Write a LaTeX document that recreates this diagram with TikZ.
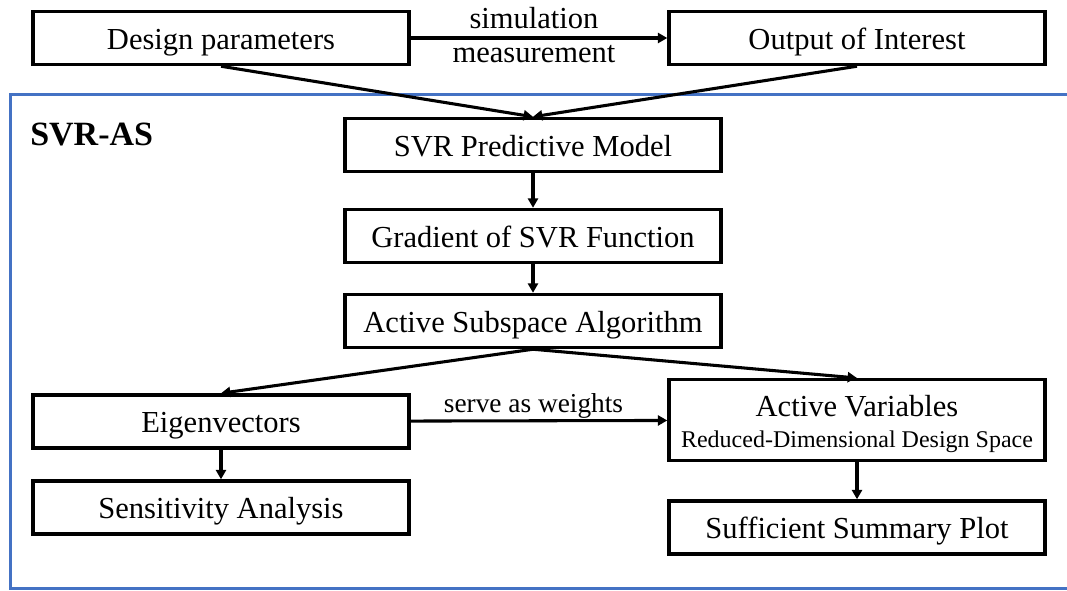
\documentclass[tikz,border=0pt]{standalone}
\usepackage{fontspec}
\setmainfont{Liberation Serif}
\usetikzlibrary{arrows.meta}
\definecolor{frameblue}{RGB}{68,114,196}
\begin{document}
\begin{tikzpicture}[x=0.75pt,y=-0.75pt,
  box/.style={draw, line width=2.6pt, rectangle, minimum width=282pt,
    minimum height=39.75pt, inner sep=0pt, text height=16.5pt, text depth=0pt,
    font=\fontsize{22.9}{27}\selectfont},
  flow/.style={line width=2.3pt, -{Triangle[length=7pt,width=7.5pt]}},
  lbl/.style={anchor=base, inner sep=0pt}
]
\clip (0,0) rectangle (1067,590);

% SVR-AS frame
\draw[frameblue, line width=2.25pt] (10,94) rectangle (1080,588);
\node[lbl, anchor=base west, font=\bfseries\fontsize{25.5}{30}\selectfont] (title) at (30,145) {SVR-AS};

% boxes
\node[box] (dp)   at (221,38)    {Design parameters};
\node[box] (oi)   at (857,38)    {Output of Interest};
\node[box] (svr)  at (533,145)   {SVR Predictive Model};
\node[box] (grad) at (533,236)   {Gradient of SVR Function};
\node[box] (asa)  at (533,321)   {Active Subspace Algorithm};
\node[box] (eig)  at (221,421.5) {Eigenvectors};
\node[box] (sens) at (221,507.5) {Sensitivity Analysis};
\node[box, minimum height=60.4pt] (av) at (857,420) {};
\node[box] (ssp)  at (857,527.5) {Sufficient Summary Plot};

% two-line text of the active-variables box
\node[lbl, font=\fontsize{22.9}{27}\selectfont] (avtitle) at (857,416) {Active Variables};
\node[lbl, font=\fontsize{18}{21}\selectfont] (avsub) at (857,447) {Reduced-Dimensional Design Space};

% connectors
\draw[flow] (dp) -- (oi);
\node[lbl, font=\fontsize{22.9}{27}\selectfont] (sim) at (534,28) {simulation};
\node[lbl, font=\fontsize{22.9}{27}\selectfont] (meas) at (534,62) {measurement};

\draw[flow] (dp.south) -- (svr.north);
\draw[flow] (oi.south) -- (svr.north);
\draw[flow] (svr) -- (grad);
\draw[flow] (grad) -- (asa);
\draw[flow] (asa.south) -- (eig.north);
\draw[flow] (asa.south) -- (av.north);
\draw[flow] (eig) -- (av);
\node[lbl, font=\fontsize{20.5}{24}\selectfont] (sw) at (533.5,412) {serve as weights};
\draw[flow] (eig) -- (sens);
\draw[flow] (av) -- (ssp);
\end{tikzpicture}
\end{document}
